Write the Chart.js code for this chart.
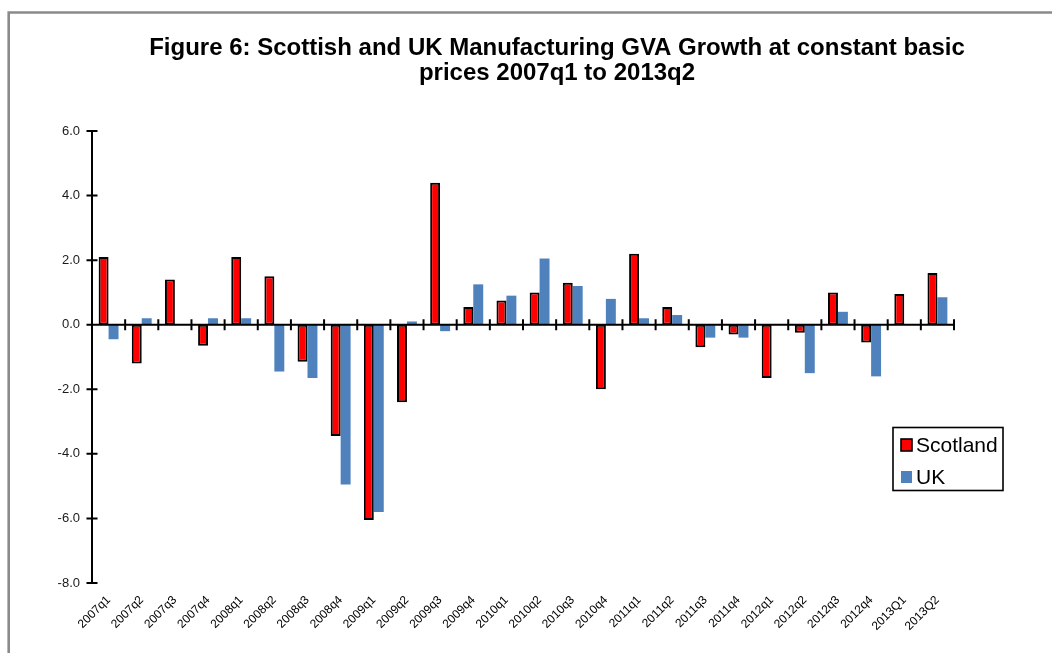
<!DOCTYPE html>
<html>
<head>
<meta charset="utf-8">
<script src="https://cdn.jsdelivr.net/npm/chart.js@4/dist/chart.umd.min.js"></script>
<style>
  html, body { margin: 0; padding: 0; background: #ffffff; }
  #wrap { width: 1052px; height: 653px; position: relative; }
</style>
</head>
<body>
<div id="wrap"><canvas id="c" width="1052" height="653"></canvas></div>
<script>
// Quarterly growth (%) in manufacturing GVA at constant basic prices
const quarters = ['2007q1','2007q2','2007q3','2007q4','2008q1','2008q2','2008q3','2008q4',
  '2009q1','2009q2','2009q3','2009q4','2010q1','2010q2','2010q3','2010q4',
  '2011q1','2011q2','2011q3','2011q4','2012q1','2012q2','2012q3','2012q4','2013Q1','2013Q2'];
const scotland = [2.1, -1.2, 1.4, -0.65, 2.1, 1.5, -1.15, -3.45, -6.05, -2.4, 4.4, 0.55, 0.75,
  1.0, 1.3, -2.0, 2.2, 0.55, -0.7, -0.3, -1.65, -0.25, 1.0, -0.55, 0.95, 1.6];
const uk = [-0.45, 0.2, 0, 0.2, 0.2, -1.45, -1.65, -4.95, -5.8, 0.1, -0.2, 1.25, 0.9,
  2.05, 1.2, 0.8, 0.2, 0.3, -0.4, -0.4, 0, -1.5, 0.4, -1.6, 0, 0.85];
const yTicks = [6, 4, 2, 0, -2, -4, -6, -8];
const titleLines = ['Figure 6: Scottish and UK Manufacturing GVA Growth at constant basic',
  'prices 2007q1 to 2013q2'];

const FONT = '"Liberation Sans", Arial, sans-serif';

// White page with the grey frame on the top and left edges
const framePlugin = {
  id: 'frame',
  beforeDraw(chart) {
    const ctx = chart.ctx;
    ctx.save();
    ctx.fillStyle = '#ffffff';
    ctx.fillRect(0, 0, chart.width, chart.height);
    ctx.strokeStyle = '#8a8a8a';
    ctx.lineWidth = 2.6;
    ctx.beginPath();
    ctx.moveTo(8.7, chart.height);
    ctx.lineTo(8.7, 12.5);
    ctx.lineTo(chart.width, 12.5);
    ctx.stroke();
    ctx.restore();
  }
};

// Two-line bold heading
const headingPlugin = {
  id: 'heading',
  afterDraw(chart) {
    const ctx = chart.ctx;
    ctx.save();
    ctx.fillStyle = '#000000';
    ctx.font = 'bold 24px ' + FONT;
    ctx.textAlign = 'center';
    ctx.textBaseline = 'middle';
    ctx.fillText(titleLines[0], 557, 48);
    ctx.fillText(titleLines[1], 557, 73);
    ctx.restore();
  }
};

// Zero line with crossing tick marks at category boundaries, y axis crossing ticks
const axesPlugin = {
  id: 'axesCross',
  afterDatasetsDraw(chart) {
    const ctx = chart.ctx;
    const x = chart.scales.x, y = chart.scales.y;
    const area = chart.chartArea;
    const y0 = y.getPixelForValue(0);
    const step = x.getPixelForValue(1) - x.getPixelForValue(0);
    ctx.save();
    ctx.strokeStyle = '#000000';
    ctx.lineWidth = 2;
    ctx.beginPath();
    ctx.moveTo(area.left, y0);
    ctx.lineTo(area.right, y0);
    for (let i = 0; i < quarters.length; i++) {
      const bx = x.getPixelForValue(i) + step / 2;
      ctx.moveTo(bx, y0 - 5.5);
      ctx.lineTo(bx, y0 + 5.5);
    }
    ctx.moveTo(area.left, area.top);
    ctx.lineTo(area.left, area.bottom);
    yTicks.forEach(v => {
      const py = y.getPixelForValue(v);
      ctx.moveTo(area.left - 5.5, py);
      ctx.lineTo(area.left + 5.5, py);
    });
    ctx.stroke();
    ctx.restore();
  }
};

// Boxed legend drawn inside the plot on the right
const legendPlugin = {
  id: 'boxLegend',
  afterDraw(chart) {
    const ctx = chart.ctx;
    const ds = chart.data.datasets;
    ctx.save();
    ctx.strokeStyle = '#000000';
    ctx.lineWidth = 1.6;
    ctx.strokeRect(893, 427.5, 110, 63);
    ctx.font = '21px ' + FONT;
    ctx.textBaseline = 'middle';
    ctx.textAlign = 'left';
    const rows = [445, 477];
    ds.forEach((d, i) => {
      const ry = rows[i];
      ctx.fillStyle = d.backgroundColor;
      ctx.fillRect(901, ry - 6, 11, 12);
      if (d.borderWidth) {
        ctx.lineWidth = 1.6;
        ctx.strokeStyle = d.borderColor;
        ctx.strokeRect(901, ry - 6, 11, 12);
      }
      ctx.fillStyle = '#000000';
      ctx.fillText(d.label, 916, ry + 1);
    });
    ctx.restore();
  }
};

new Chart(document.getElementById('c'), {
  type: 'bar',
  data: {
    labels: quarters,
    datasets: [
      {
        label: 'Scotland',
        data: scotland,
        backgroundColor: '#ff0000',
        borderColor: '#000000',
        borderWidth: 2,
        borderSkipped: false,
        categoryPercentage: 0.6,
        barPercentage: 1.0
      },
      {
        label: 'UK',
        data: uk,
        backgroundColor: '#4f81bd',
        borderWidth: 0,
        categoryPercentage: 0.6,
        barPercentage: 1.0
      }
    ]
  },
  options: {
    responsive: false,
    animation: false,
    devicePixelRatio: 1,
    layout: { padding: { top: 131, right: 98, bottom: 0, left: 0 } },
    plugins: {
      legend: { display: false },
      title: { display: false },
      tooltip: { enabled: false }
    },
    scales: {
      x: {
        position: 'bottom',
        grid: { display: false, drawTicks: false },
        border: { display: false },
        ticks: {
          autoSkip: false,
          maxRotation: 45,
          minRotation: 45,
          padding: 10,
          color: '#000000',
          font: { family: FONT, size: 12 }
        },
        afterFit(scale) { scale.height = 70; }
      },
      y: {
        min: -8,
        max: 6,
        grid: { display: false, drawTicks: false },
        border: { display: false },
        ticks: {
          stepSize: 2,
          padding: 12,
          color: '#1a1a1a',
          font: { family: FONT, size: 13 },
          callback: v => Number(v).toFixed(1)
        },
        afterFit(scale) { scale.width = 92; }
      }
    }
  },
  plugins: [framePlugin, headingPlugin, axesPlugin, legendPlugin]
});
</script>
</body>
</html>
